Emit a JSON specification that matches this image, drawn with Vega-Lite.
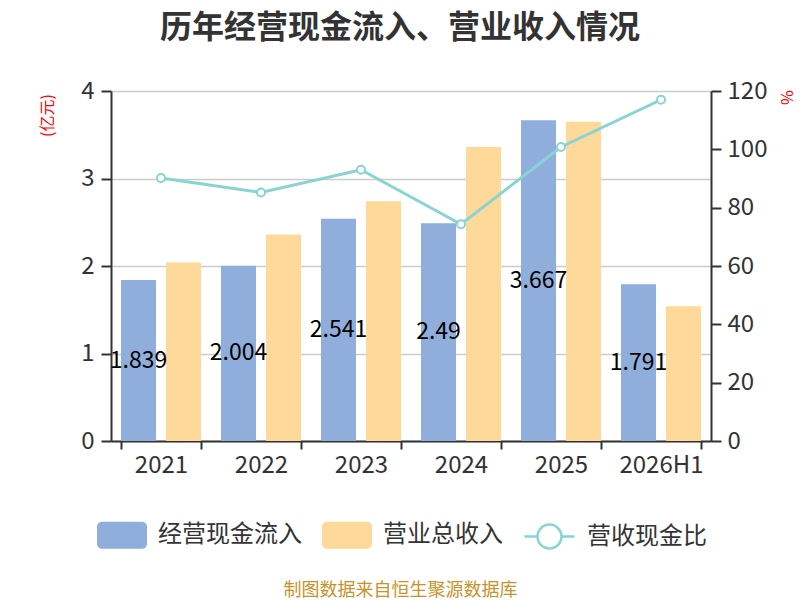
{
"$schema":"https://vega.github.io/schema/vega-lite/v6.json",
"width":600,"height":350,
"autosize":{"type":"none"},
"padding":{"left":111,"top":91,"right":89,"bottom":159},
"background":"white",
"config":{"font":"Noto Sans CJK SC","view":{"stroke":null}},
"title":{"text":"历年经营现金流入、营业收入情况","fontSize":32,"fontWeight":"bold","color":"#333333","anchor":"middle","dx":-11,"offset":34,"font":"Noto Sans CJK SC"},
"datasets":{
"bars":[
{"year":"2021","series":"经营现金流入","value":1.839},
{"year":"2021","series":"营业总收入","value":2.04},
{"year":"2022","series":"经营现金流入","value":2.004},
{"year":"2022","series":"营业总收入","value":2.36},
{"year":"2023","series":"经营现金流入","value":2.541},
{"year":"2023","series":"营业总收入","value":2.74},
{"year":"2024","series":"经营现金流入","value":2.49},
{"year":"2024","series":"营业总收入","value":3.36},
{"year":"2025","series":"经营现金流入","value":3.667},
{"year":"2025","series":"营业总收入","value":3.65},
{"year":"2026H1","series":"经营现金流入","value":1.791},
{"year":"2026H1","series":"营业总收入","value":1.54}
],
"ratio":[
{"year":"2021","ratio":90.2},
{"year":"2022","ratio":85.2},
{"year":"2023","ratio":93.0},
{"year":"2024","ratio":74.3},
{"year":"2025","ratio":100.8},
{"year":"2026H1","ratio":117.0}
]
},
"encoding":{"x":{"field":"year","type":"nominal","scale":{"domain":["2021","2022","2023","2024","2025","2026H1"],"paddingInner":0.2,"paddingOuter":0.1},
"axis":{"title":"制图数据来自恒生聚源数据库","titleColor":"#c8922a","titleFontSize":18,"titleFontWeight":"normal","titleX":289,"titleY":149,"titleAlign":"center","titleBaseline":"middle","labelAngle":0,"labelFontSize":24,"labelColor":"#333333","labelPadding":4,"tickBand":"extent","tickSize":8,"tickColor":"#333333","tickWidth":2,"domainColor":"#333333","domainWidth":2,"grid":false}}},
"layer":[
{"data":{"name":"bars"},
"layer":[
{"mark":{"type":"bar"},
"encoding":{
"xOffset":{"field":"series","type":"nominal","scale":{"domain":["经营现金流入","营业总收入"],"paddingInner":0.222,"paddingOuter":0}},
"y":{"field":"value","type":"quantitative","scale":{"domain":[0,4]},
"axis":{"title":"(亿元)","titleColor":"#ff0000","titleFontSize":16,"titleFontWeight":"normal","titleX":-64,"titleY":24,"titleAngle":-90,"titleAlign":"center","titleBaseline":"middle","values":[0,1,2,3,4],"format":"d","labelFontSize":24,"labelColor":"#333333","labelPadding":7,"tickSize":10,"tickWidth":2,"tickColor":"#333333","domainColor":"#333333","domainWidth":2,"grid":true,"gridColor":"#cccccc","gridWidth":1.5}},
"fill":{"field":"series","type":"nominal","scale":{"domain":["经营现金流入","营业总收入"],"range":["#8FAEDB","#FFD999"]},
"legend":{"orient":"none","legendX":-14,"legendY":419,"direction":"horizontal","title":null,"symbolType":"M-0.8,-0.54H0.8A0.2,0.2 0 0 1 1,-0.34V0.34A0.2,0.2 0 0 1 0.8,0.54H-0.8A0.2,0.2 0 0 1 -1,0.34V-0.34A0.2,0.2 0 0 1 -0.8,-0.54Z","symbolSize":2500,"symbolStrokeWidth":0,"symbolOpacity":1,"labelFontSize":24,"labelColor":"#333333","labelOffset":11,"columnPadding":20,"padding":0}}
}},
{"transform":[{"filter":"datum.series === '经营现金流入'"}],
"mark":{"type":"text","fontSize":23,"color":"#000000","baseline":"middle"},
"encoding":{
"xOffset":{"field":"series","type":"nominal"},
"y":{"field":"value","type":"quantitative","scale":{"domain":[0,8]},"axis":null},
"text":{"field":"value","type":"nominal"}
}}
],
"resolve":{"scale":{"y":"independent"}}
},
{"data":{"name":"ratio"},
"layer":[
{"mark":{"type":"line","strokeWidth":3},
"encoding":{
"y":{"field":"ratio","type":"quantitative","scale":{"domain":[0,120]},
"axis":{"orient":"right","title":"%","titleColor":"#ff0000","titleFontSize":16,"titleFontWeight":"normal","titleX":74,"titleY":6,"titleAngle":90,"titleAlign":"center","titleBaseline":"middle","values":[0,20,40,60,80,100,120],"labelFontSize":24,"labelColor":"#333333","labelPadding":6,"tickSize":10,"tickWidth":2,"tickColor":"#333333","domainColor":"#333333","domainWidth":2,"grid":false}},
"stroke":{"datum":"营收现金比","scale":{"range":["#88D4D4"]},
"legend":{"orient":"none","legendX":412,"legendY":419,"title":null,"symbolType":"M-1,0H-0.48M0.48,0H1M0.48,0A0.48,0.48 0 1 1 -0.48,0A0.48,0.48 0 1 1 0.48,0Z","symbolSize":2500,"symbolStrokeWidth":2.5,"symbolFillColor":"white","labelFontSize":24,"labelColor":"#333333","labelOffset":11,"padding":0}}
}},
{"mark":{"type":"point","shape":"circle","filled":true,"fill":"white","stroke":"#88D4D4","strokeWidth":2,"size":64,"opacity":1},
"encoding":{"y":{"field":"ratio","type":"quantitative"}}}
]}
],
"resolve":{"scale":{"y":"independent"}}
}
